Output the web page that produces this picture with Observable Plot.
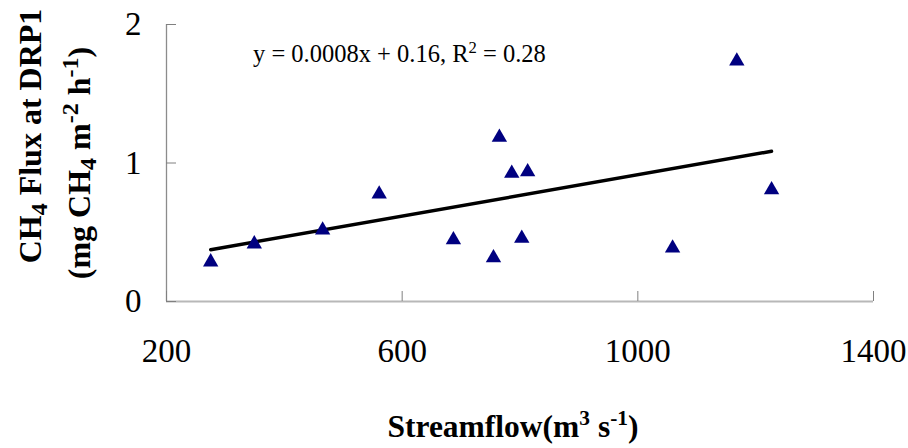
<!DOCTYPE html>
<html><head><meta charset="utf-8">
<script src="https://cdn.jsdelivr.net/npm/d3@7"></script>
<script src="https://cdn.jsdelivr.net/npm/@observablehq/plot@0.6"></script>
<style>body{margin:0;background:#fff;} svg{display:block}</style>
</head><body><div id="chart"></div>
<script>
// Data
const streamflow = [275, 349, 465, 561, 687, 755, 765, 786, 813, 803, 1059, 1168, 1227];
const ch4Flux    = [0.30, 0.43, 0.53, 0.79, 0.46, 0.33, 1.20, 0.94, 0.95, 0.47, 0.40, 1.75, 0.82];
const trendX = [275, 1227];
const trendY = [0.374, 1.085];
const xTicks = [200, 600, 1000, 1400];
const yTicks = [0, 1, 2];

const points = streamflow.map((x, i) => ({x, y: ch4Flux[i]}));
const trend = trendX.map((x, i) => ({x, y: trendY[i]}));

const plot = Plot.plot({
  width: 908,
  height: 448,
  marginLeft: 166,
  marginRight: 35,
  marginTop: 24,
  marginBottom: 147,
  style: {fontFamily: "Liberation Serif", fontSize: "33px", background: "white", color: "black"},
  x: {domain: [200, 1400]},
  y: {domain: [0, 2]},
  marks: [
    Plot.ruleY([0], {stroke: "#b8b8b8", strokeWidth: 2}),
    Plot.ruleX([200], {stroke: "#8c8c8c", strokeWidth: 1.3}),
    Plot.axisX({ticks: xTicks, tickSize: -10, tickPadding: 47, stroke: "#808080", fill: "black", fontSize: 33, label: null, tickFormat: d => String(d)}),
    Plot.axisY({ticks: yTicks, tickSize: -10, tickPadding: 35, stroke: "#808080", fill: "black", fontSize: 33, label: null, tickFormat: d => String(d)}),
    Plot.line(trend, {x: "x", y: "y", stroke: "black", strokeWidth: 3.4}),
    Plot.dot(points, {x: "x", y: "y", symbol: "triangle", fill: "#000080", r: 5.7, dy: 2})
  ]
});
document.getElementById("chart").appendChild(plot);

const svg = d3.select(plot);
function addRich(x, y, parts, {size, weight = "normal", anchor = "start", rotate = 0, small = 0.68}) {
  const t = svg.append("text")
    .attr("transform", `translate(${x},${y}) rotate(${rotate})`)
    .attr("text-anchor", anchor)
    .attr("font-family", "Liberation Serif")
    .attr("font-size", size)
    .attr("font-weight", weight)
    .attr("fill", "black");
  let shift = 0;
  for (const p of parts) {
    const target = p.sup ? -0.38 * size : p.sub ? 0.2 * size : 0;
    t.append("tspan")
      .attr("dy", target - shift)
      .attr("font-size", (p.sup || p.sub) ? size * small : size)
      .text(p.t);
    shift = target;
  }
}

addRich(253, 62, [{t: "y = 0.0008x + 0.16, R"}, {t: "2", sup: true}, {t: " = 0.28"}], {size: 24.5});
addRich(513, 437, [{t: "Streamflow(m"}, {t: "3", sup: true}, {t: " s"}, {t: "-1", sup: true}, {t: ")"}], {size: 31.5, weight: "bold", anchor: "middle"});
addRich(41, 136, [{t: "CH"}, {t: "4", sub: true}, {t: " Flux at DRP1"}], {size: 32, weight: "bold", anchor: "middle", rotate: -90, small: 0.75});
addRich(90, 163, [{t: "(mg CH"}, {t: "4", sub: true}, {t: " m"}, {t: "-2", sup: true}, {t: " h"}, {t: "-1", sup: true}, {t: ")"}], {size: 32, weight: "bold", anchor: "middle", rotate: -90, small: 0.75});
</script>
</body></html>
